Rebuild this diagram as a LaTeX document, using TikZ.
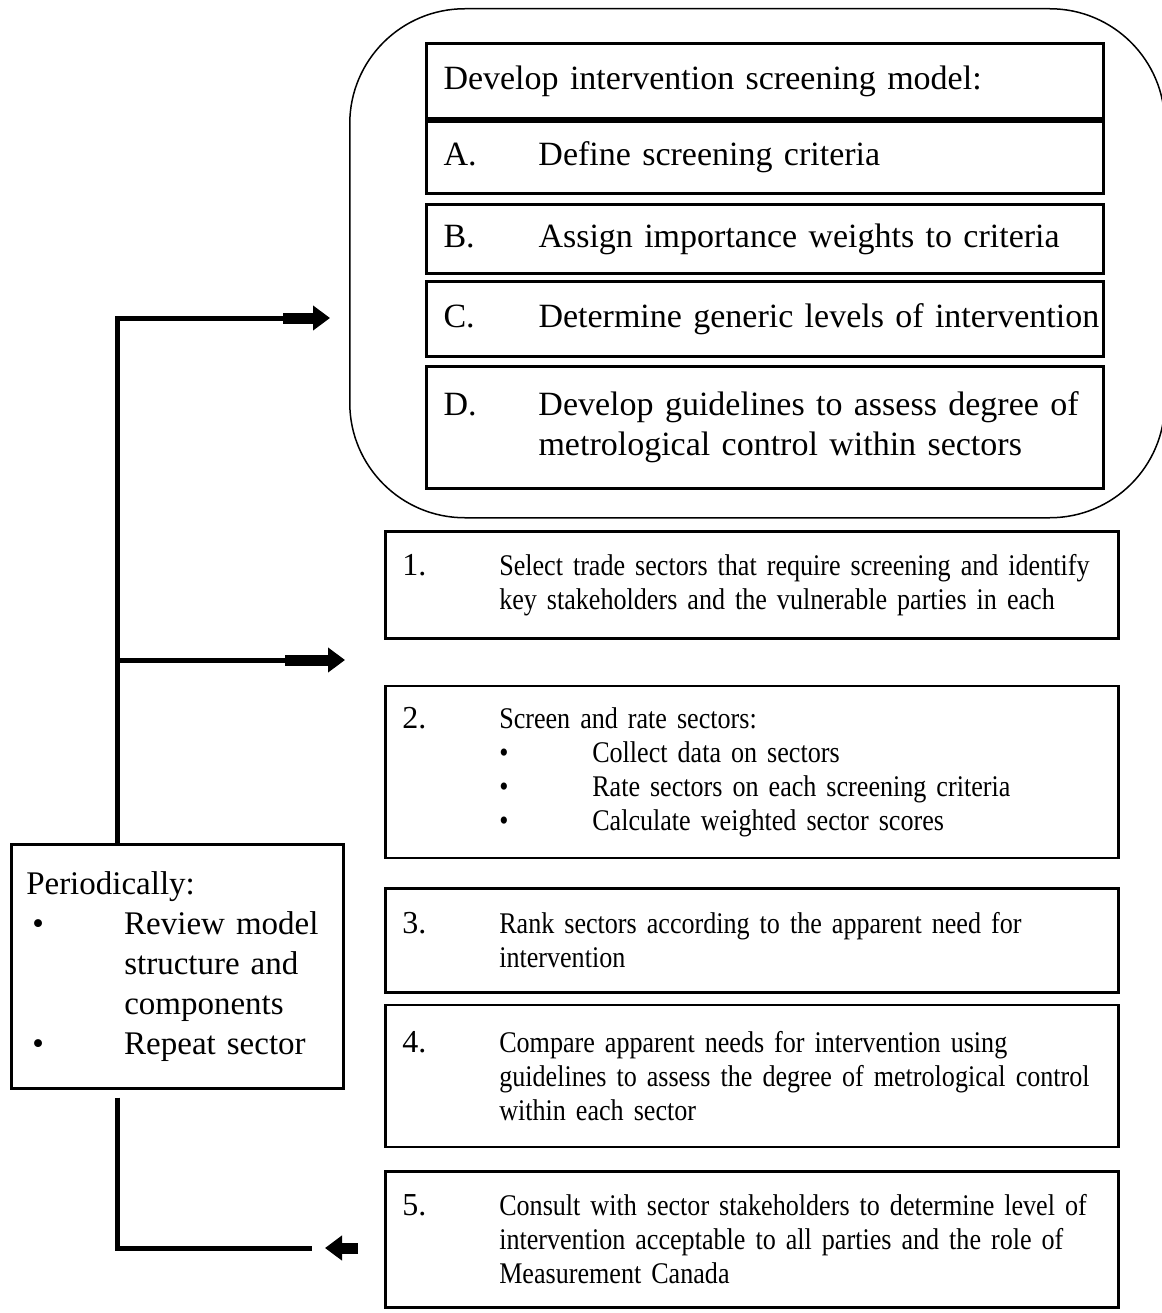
\documentclass[tikz,border=0pt]{standalone}
\usepackage{xcolor}
\usepackage{fontspec}
\setmainfont{Liberation Serif}
\newfontfamily\narrowserif[FakeStretch=0.87]{Liberation Serif}
\usepackage{tikz}
\usetikzlibrary{positioning, arrows.meta}

\newcommand{\modelfont}{\fontsize{34}{40}\selectfont}
\newcommand{\stagefont}{\narrowserif\fontsize{30}{34}\selectfont\hyphenpenalty=10000}
\newcommand{\stagenum}[1]{{\rmfamily\fontsize{32}{34}\selectfont #1}}
\newcommand{\tagline}[3]{\hangindent=#1\hangafter=1\noindent\makebox[#1][l]{#2}#3\par}

\tikzstyle{model} = [rectangle, draw=black, line width=3pt, text width=643pt, inner xsep=17pt, inner ysep=0pt, align=left, font=\modelfont]
\tikzstyle{stage} = [rectangle, draw=black, line width=2.5pt, text width=699pt, inner xsep=17pt, inner ysep=0pt, align=left, font=\stagefont]
\tikzstyle{review} = [rectangle, draw=black, line width=2.5pt, text width=302pt, inner xsep=15pt, inner ysep=0pt, align=left, minimum height=244pt, font=\fontsize{33}{40}\selectfont]
\tikzstyle{frame} = [rectangle, draw=black, line width=1.5pt, rounded corners=115pt]
\tikzstyle{link} = [line width=5pt]
\tikzstyle{pointer} = [line width=11pt, -{Triangle[length=17pt, width=24pt]}]

\begin{document}
\begin{tikzpicture}[x=1pt, y=-1pt]
		\useasboundingbox (0,0) rectangle (1161,1313);
		\node (Model Frame)[frame, anchor=north west, minimum width=815pt, minimum height=509pt] at (349,8) {};
		\node (Model Title)[model, anchor=north west, minimum height=75pt] at (425,42) {Develop intervention screening model:};
		\node (Step A)[model, minimum height=72pt, below = 0pt of Model Title]{\tagline{95pt}{A.}{Define screening criteria}};
		\node (Step B)[model, minimum height=69pt, below = 8pt of Step A]{\tagline{95pt}{B.}{Assign importance weights to criteria}};
		\node (Step C)[model, minimum height=75pt, below = 5pt of Step B]{\tagline{95pt}{C.}{\mbox{Determine generic levels of intervention}}};
		\node (Step D)[model, minimum height=122pt, below = 7pt of Step C]{\tagline{95pt}{D.}{Develop guidelines to assess degree of\newline metrological control within sectors}};

		\node (Step 1)[stage, anchor=north west, minimum height=107pt] at (384,530) {\tagline{97pt}{\stagenum{1.}}{Select trade sectors that require screening and identify\newline key stakeholders and the vulnerable parties in each}};
		\node (Step 2)[stage, minimum height=172pt, below = 45pt of Step 1]{\tagline{97pt}{\stagenum{2.}}{Screen and rate sectors:\newline\makebox[93pt][l]{\textbullet}Collect data on sectors\newline\makebox[93pt][l]{\textbullet}Rate sectors on each screening criteria\newline\makebox[93pt][l]{\textbullet}Calculate weighted sector scores}};
		\node (Step 3)[stage, minimum height=104pt, below = 28pt of Step 2]{\tagline{97pt}{\stagenum{3.}}{Rank sectors according to the apparent need for\newline intervention}};
		\node (Step 4)[stage, minimum height=142pt, below = 10pt of Step 3]{\tagline{97pt}{\stagenum{4.}}{Compare apparent needs for intervention using\newline guidelines to assess the degree of metrological control\newline within each sector}};
		\node (Step 5)[stage, minimum height=136pt, below = 22pt of Step 4]{\tagline{97pt}{\stagenum{5.}}{Consult with sector stakeholders to determine level of\newline intervention acceptable to all parties and the role of\newline Measurement Canada}};

		\node (Periodic Review)[review, anchor=north west] at (10,843) {Periodically:\par\tagline{98pt}{\hspace*{6pt}\textbullet}{Review model\newline structure and\newline components}\tagline{98pt}{\hspace*{6pt}\textbullet}{Repeat sector}};

		\coordinate (Upper Joint) at (117,318);
		\coordinate (Middle Joint) at (117,660);
		\coordinate (Lower Joint) at (117,1248);
		\coordinate (Frame Tip) at (330,318);
		\coordinate (Stage Tip) at (345,660);
		\coordinate (Return Tail) at (312,1248);
		\coordinate (Return Tip) at (325,1248);

		\draw [link] (Periodic Review.north -| Upper Joint) -- (Upper Joint) -- ([xshift=-44pt]Frame Tip);
		\draw [pointer] ([xshift=-47pt]Frame Tip) -- (Frame Tip);
		\draw [link] (Middle Joint) -- ([xshift=-58pt]Stage Tip);
		\draw [pointer] ([xshift=-60pt]Stage Tip) -- (Stage Tip);
		\draw [link] ([yshift=-8pt]Periodic Review.south -| Lower Joint) -- (Lower Joint) -- (Return Tail);
		\draw [pointer] ([xshift=33pt]Return Tip) -- (Return Tip);
	\end{tikzpicture}
\end{document}
